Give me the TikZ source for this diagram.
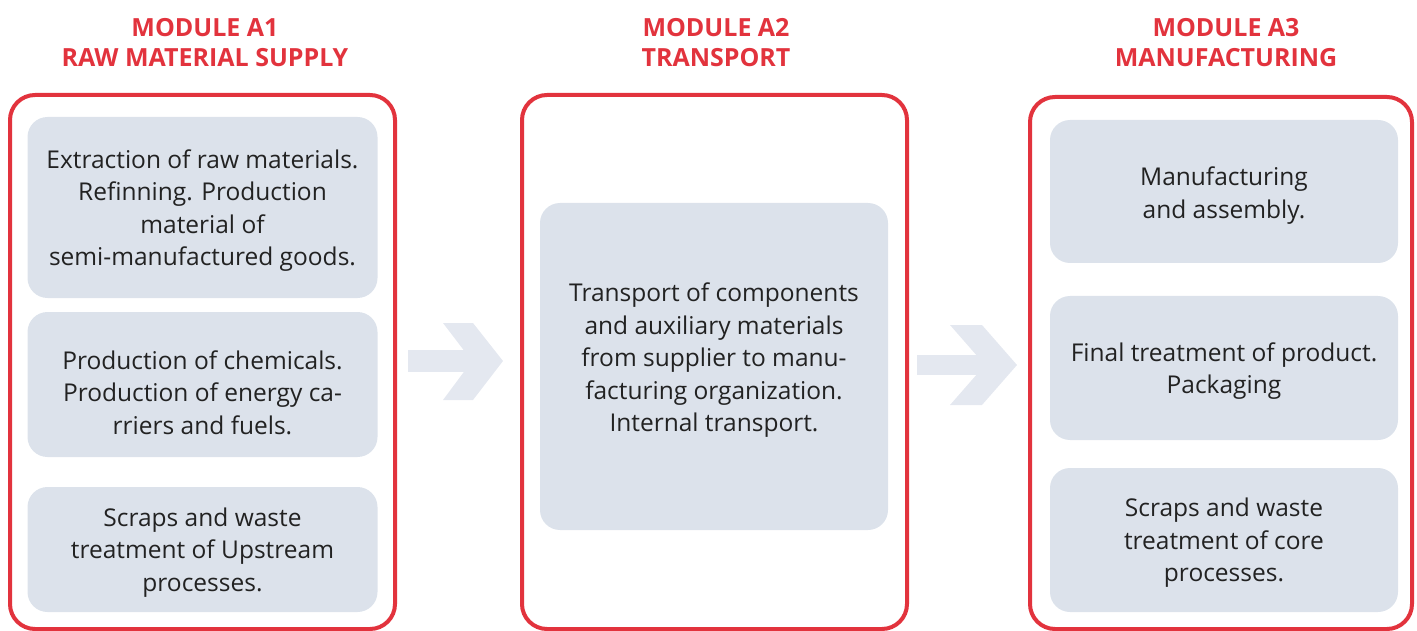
\documentclass[tikz,border=0pt]{standalone}
\usepackage{fontspec}
\setmainfont{Open Sans}
\definecolor{modred}{HTML}{E2333D}
\definecolor{boxfill}{HTML}{DCE2EB}
\definecolor{arrowfill}{HTML}{E4E8F0}
\definecolor{txtcol}{HTML}{222222}
\tikzset{
  outerbox/.style={draw=modred, line width=4pt, rounded corners=25pt, inner sep=0pt, outer sep=0pt},
  innerbox/.style={fill=boxfill, rounded corners=20pt, inner sep=0pt, outer sep=0pt},
  bodytxt/.style={text=txtcol, align=center, inner sep=0pt, font=\fontsize{24.5}{32.5}\selectfont},
  titletxt/.style={text=modred, align=center, inner sep=0pt, font=\bfseries\fontsize{25}{30}\selectfont},
  blockarrow/.style={fill=arrowfill, draw=none}
}
\begin{document}
\begin{tikzpicture}[x=1pt,y=-1pt]
\useasboundingbox (0,0) rectangle (1417,631);
% titles
\node[titletxt] (t1) at (205,43) {MODULE A1\\RAW MATERIAL SUPPLY};
\node[titletxt] (t2) at (716,43) {MODULE A2\\TRANSPORT};
\node[titletxt] (t3) at (1226,43) {MODULE A3\\MANUFACTURING};
% outer boxes
\node[outerbox, minimum width=385pt, minimum height=534pt] (m1) at (202.5,362) {};
\node[outerbox, minimum width=385pt, minimum height=534pt] (m2) at (714.5,362) {};
\node[outerbox, minimum width=382pt, minimum height=532pt] (m3) at (1221,363) {};
% A1 inner boxes
\node[innerbox, minimum width=350pt, minimum height=181pt] (a1) at (202.5,207.5) {};
\node[bodytxt] (a1t) at ([yshift=-3pt]a1.center) {Extraction of raw materials.\\Refinning. Production\\material of\\semi-manufactured goods.};
\node[innerbox, minimum width=350pt, minimum height=145pt] (a2) at (202.5,384.5) {};
\node[bodytxt] (a2t) at ([yshift=-8pt]a2.center) {Production of chemicals.\\Production of energy ca-\\rriers and fuels.};
\node[innerbox, minimum width=350pt, minimum height=125pt] (a3) at (202.5,549.5) {};
\node[bodytxt] (a3t) at ([yshift=-3pt]a3.center) {Scraps and waste\\treatment of Upstream\\processes.};
% A2 inner box
\node[innerbox, minimum width=348pt, minimum height=327pt] (b1) at (714,366.5) {};
\node[bodytxt] (b1t) at ([yshift=6pt]b1.center) {Transport of components\\and auxiliary materials\\from supplier to manu-\\facturing organization.\\Internal transport.};
% A3 inner boxes
\node[innerbox, minimum width=348pt, minimum height=143pt] (c1) at (1224,191.5) {};
\node[bodytxt] (c1t) at ([yshift=-4pt]c1.center) {Manufacturing\\and assembly.};
\node[innerbox, minimum width=348pt, minimum height=144pt] (c2) at (1224,368) {};
\node[bodytxt] (c2t) at ([yshift=-3pt]c2.center) {Final treatment of product.\\Packaging};
\node[innerbox, minimum width=348pt, minimum height=144pt] (c3) at (1224,540) {};
\node[bodytxt] (c3t) at ([yshift=-3pt]c3.center) {Scraps and waste\\treatment of core\\processes.};
% block arrows
\fill[blockarrow] (408,350) rectangle (474,372);
\fill[blockarrow] (443,323) -- (473,323) -- (503,361) -- (473,400) -- (443,400) -- (472,361) -- cycle;
\fill[blockarrow] (917,355) rectangle (986,375);
\fill[blockarrow] (950,325) -- (982,325) -- (1017,365) -- (982,405) -- (950,405) -- (985,365) -- cycle;
\end{tikzpicture}
\end{document}
